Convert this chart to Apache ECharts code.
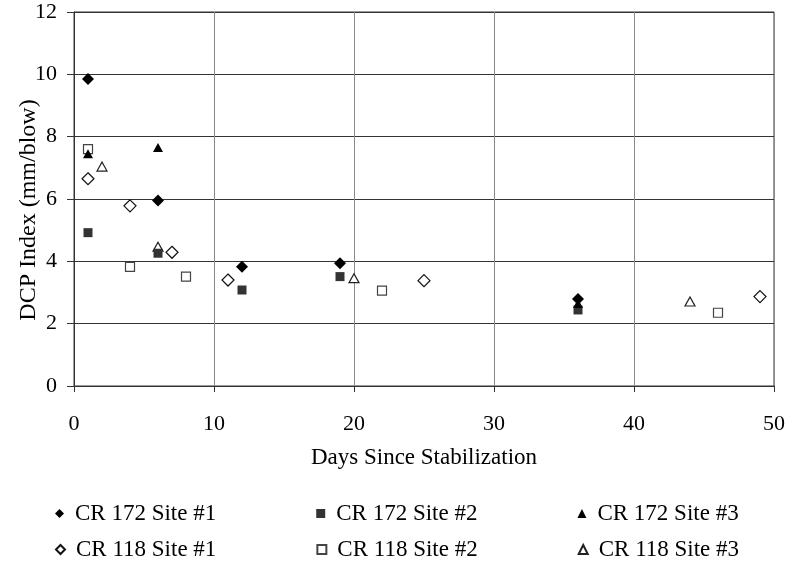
<!DOCTYPE html>
<html>
<head>
<meta charset="utf-8">
<title>DCP Index vs Days Since Stabilization</title>
<script src="https://cdn.jsdelivr.net/npm/echarts@6/dist/echarts.min.js"></script>
<style>
  html, body { margin: 0; padding: 0; background: #fff; }
  #chart { width: 787px; height: 561px; }
</style>
</head>
<body>
<div id="chart"></div>
<script>
// Days since stabilization and measured DCP index (mm/blow) for each site
const cr172Site1Days = [1, 6, 12, 19, 36];
const cr172Site1Dcp  = [9.85, 5.95, 3.83, 3.94, 2.79];
const cr172Site2Days = [1, 6, 12, 19, 36];
const cr172Site2Dcp  = [4.92, 4.26, 3.08, 3.51, 2.44];
const cr172Site3Days = [1, 6, 36];
const cr172Site3Dcp  = [7.45, 7.65, 2.65];
const cr118Site1Days = [1, 4, 7, 11, 25, 49];
const cr118Site1Dcp  = [6.65, 5.78, 4.29, 3.40, 3.38, 2.87];
const cr118Site2Days = [1, 4, 8, 22, 46];
const cr118Site2Dcp  = [7.6, 3.82, 3.51, 3.06, 2.35];
const cr118Site3Days = [2, 6, 20, 44];
const cr118Site3Dcp  = [7.04, 4.47, 3.46, 2.71];

const seriesNamesRow1 = ['CR 172 Site #1', 'CR 172 Site #2', 'CR 172 Site #3'];
const seriesNamesRow2 = ['CR 118 Site #1', 'CR 118 Site #2', 'CR 118 Site #3'];

const FONT = 'Liberation Serif';

function pairs(xs, ys) {
  return xs.map((x, i) => [x, ys[i]]);
}

function filled(name, xs, ys, symbol, size, color) {
  return {
    name, type: 'scatter', symbol, symbolSize: size, z: 3,
    data: pairs(xs, ys),
    itemStyle: { color: color, borderWidth: 0, opacity: 1 },
    emphasis: { disabled: true }
  };
}

function hollow(name, xs, ys, symbol, size, stroke) {
  return {
    name, type: 'scatter', symbol, symbolSize: size, z: 2,
    data: pairs(xs, ys),
    itemStyle: { color: '#fff', borderColor: stroke, borderWidth: 1.2, opacity: 1 },
    emphasis: { disabled: true }
  };
}

function legendRow(names, top) {
  return {
    data: names, left: 55, top: top, padding: 0,
    itemGap: 100, itemWidth: 9, itemHeight: 9,
    selectedMode: false,
    textStyle: { fontFamily: FONT, fontSize: 23, color: '#000', padding: [0, 0, 0, 6] }
  };
}

const chart = echarts.init(document.getElementById('chart'), null, { renderer: 'canvas' });

chart.setOption({
  animation: false,
  backgroundColor: '#fff',
  textStyle: { fontFamily: FONT },
  grid: {
    left: 74, right: 13, top: 12, bottom: 175,
    outerBoundsMode: 'none', containLabel: false,
    show: true, borderColor: '#333', borderWidth: 1, backgroundColor: 'transparent'
  },
  xAxis: {
    type: 'value', min: 0, max: 50, interval: 10,
    name: 'Days Since Stabilization', nameLocation: 'middle', nameGap: 60,
    nameMoveOverlap: false,
    nameTextStyle: { fontFamily: FONT, fontSize: 23, color: '#000' },
    axisLine: { show: true, onZero: false, lineStyle: { color: '#333', width: 1 } },
    axisTick: { show: true, length: 6, lineStyle: { color: '#333' } },
    axisLabel: { fontFamily: FONT, fontSize: 22, color: '#000', margin: 27 },
    splitLine: { show: true, lineStyle: { color: '#8a8a8a', width: 1 } }
  },
  yAxis: {
    type: 'value', min: 0, max: 12, interval: 2,
    name: 'DCP Index (mm/blow)', nameLocation: 'middle', nameGap: 33,
    nameMoveOverlap: false,
    nameTextStyle: { fontFamily: FONT, fontSize: 24, color: '#000', padding: [0, 22, 0, 0] },
    axisLine: { show: true, onZero: false, lineStyle: { color: '#333', width: 1 } },
    axisTick: { show: true, length: 7, lineStyle: { color: '#333' } },
    axisLabel: { fontFamily: FONT, fontSize: 22, color: '#000', margin: 17, padding: [3, 0, 0, 0] },
    splitLine: { show: true, lineStyle: { color: '#333', width: 1 } }
  },
  legend: [legendRow(seriesNamesRow1, 502), legendRow(seriesNamesRow2, 538)],
  series: [
    filled(seriesNamesRow1[0], cr172Site1Days, cr172Site1Dcp, 'diamond', 12, '#000'),
    filled(seriesNamesRow1[1], cr172Site2Days, cr172Site2Dcp, 'rect', 9, '#333'),
    filled(seriesNamesRow1[2], cr172Site3Days, cr172Site3Dcp, 'triangle', [10, 9], '#000'),
    hollow(seriesNamesRow2[0], cr118Site1Days, cr118Site1Dcp, 'diamond', 12, '#111'),
    hollow(seriesNamesRow2[1], cr118Site2Days, cr118Site2Dcp, 'rect', 9, '#444'),
    hollow(seriesNamesRow2[2], cr118Site3Days, cr118Site3Dcp, 'triangle', [10, 9], '#222')
  ]
});
</script>
</body>
</html>
